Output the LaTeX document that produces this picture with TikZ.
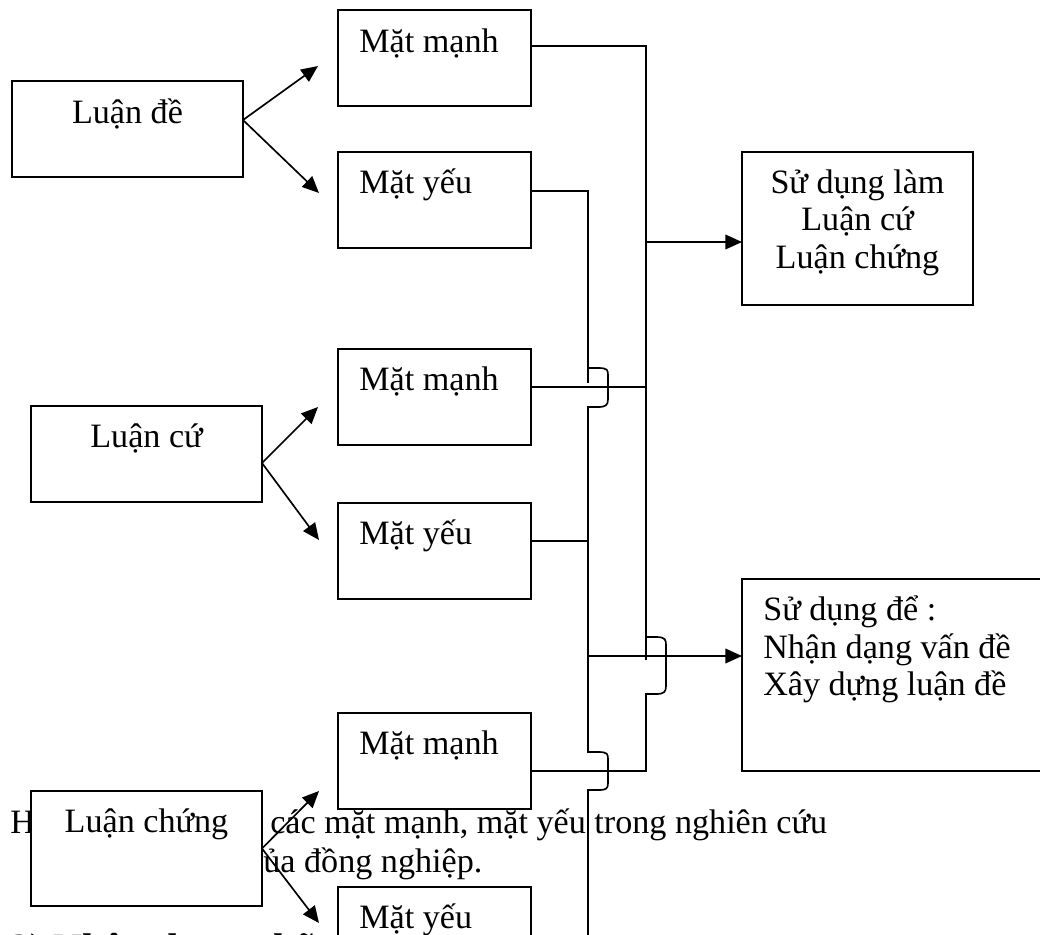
\documentclass[tikz,border=0pt]{standalone}
\usepackage{fontspec}
\setmainfont{Liberation Serif}
\usetikzlibrary{arrows.meta,calc}
\begin{document}
\begin{tikzpicture}[x=0.75pt,y=-0.75pt,
  box/.style={draw,fill=white,line width=1.4pt,inner sep=0pt,outer sep=0pt,anchor=north west},
  lbl/.style={inner sep=0pt,font=\fontsize{25.6}{30}\selectfont},
  ln/.style={line width=1.25pt},
  arr/.style={line width=1.25pt,-{Triangle[length=12.5pt,width=11pt]}}]
\useasboundingbox (0,0) rectangle (1040,935);
\clip (0,0) rectangle (1040,935);

% background page text (partly hidden by the boxes)
\node[lbl,anchor=base west] (bgH) at (10,833) {H};
\node[lbl,anchor=base west] (bg1) at (270,833) {các mặt mạnh, mặt yếu trong nghiên cứu};
\node[lbl,anchor=base west] (bg2) at (248,872) {của đồng nghiệp.};
\node[inner sep=0pt,anchor=base west,font=\fontsize{30}{34}\selectfont\bfseries] (bg3) at (10,961) {2) Nhận dạng những};

% boxes
\node[box,minimum width=173.25pt,minimum height=72pt] (lde) at (12,81) {};
\node[box,minimum width=173.25pt,minimum height=72pt] (lcu) at (31,406) {};
\node[box,minimum width=173.25pt,minimum height=86.25pt] (lch) at (31,791) {};
\node[box,minimum width=144.75pt,minimum height=72pt] (mm1) at (338,10) {};
\node[box,minimum width=144.75pt,minimum height=72pt] (my1) at (338,152) {};
\node[box,minimum width=144.75pt,minimum height=72pt] (mm2) at (338,349) {};
\node[box,minimum width=144.75pt,minimum height=72pt] (my2) at (338,503) {};
\node[box,minimum width=144.75pt,minimum height=72pt] (mm3) at (338,713) {};
\node[box,minimum width=144.75pt,minimum height=72pt] (my3) at (338,887) {};
\node[box,minimum width=173.25pt,minimum height=114.75pt] (use1) at (742,152) {};
\node[box,minimum width=238.5pt,minimum height=144pt] (use2) at (742,579) {};

% labels
\node[lbl,anchor=base] (tlde) at (127.5,123) {Luận đề};
\node[lbl,anchor=base] (tlcu) at (146.5,447) {Luận cứ};
\node[lbl,anchor=base] (tlch) at (146.5,832) {Luận chứng};
\node[lbl,anchor=base west] (tmm1) at (359,52) {Mặt mạnh};
\node[lbl,anchor=base west] (tmy1) at (359,193) {Mặt yếu};
\node[lbl,anchor=base west] (tmm2) at (359,390) {Mặt mạnh};
\node[lbl,anchor=base west] (tmy2) at (359,544) {Mặt yếu};
\node[lbl,anchor=base west] (tmm3) at (359,754) {Mặt mạnh};
\node[lbl,anchor=base west] (tmy3) at (359,928) {Mặt yếu};
\node[lbl,anchor=base] (tu1a) at (857.5,193) {Sử dụng làm};
\node[lbl,anchor=base] (tu1b) at (857.5,230) {Luận cứ};
\node[lbl,anchor=base] (tu1c) at (857.5,268) {Luận chứng};
\node[lbl,anchor=base west] (tu2a) at (763,620) {Sử dụng để :};
\node[lbl,anchor=base west] (tu2b) at (763,658) {Nhận dạng vấn đề};
\node[lbl,anchor=base west] (tu2c) at (763,695) {Xây dựng luận đề};

% arrow tips
\coordinate (a1) at (318,66);
\coordinate (a2) at (319,193);
\coordinate (a3) at (318,407);
\coordinate (a4) at (319,540);
\coordinate (a5) at (319,791);
\coordinate (a6) at (319,923);

\draw[arr] ($(lde.east)+(0,-9)$) -- (a1);
\draw[arr] ($(lde.east)+(0,-9)$) -- (a2);
\draw[arr] ($(lcu.east)+(0,9)$) -- (a3);
\draw[arr] ($(lcu.east)+(0,9)$) -- (a4);
\draw[arr] (lch.east) -- (a5);
\draw[arr] (lch.east) -- (a6);

% bus of the strong sides (x = 646)
\draw[ln] ($(mm1.north east)+(0,36)$) -| (646,660);
\draw[ln] ($(mm2.north east)+(0,38)$) -- (646,387);
\draw[ln] (646,637) -- (656,637) .. controls (666,637) and (666,640) .. (666,646)
  -- (666,686) .. controls (666,692) and (664,694) .. (656,694) -- (646,694)
  -- (646,771) -- ($(mm3.north east)+(0,58)$);
\draw[arr] (646,242) -- ($(use1.north west)+(0,90)$);

% bus of the weak sides (x = 588)
\draw[ln] ($(my1.north east)+(0,39)$) -| (588,383);
\draw[ln] (588,368) -- (598,368) .. controls (608,368) and (608,370) .. (608,376)
  -- (608,399) .. controls (608,405) and (606,407) .. (598,407) -- (588,407)
  -- (588,752) -- (598,752) .. controls (608,752) and (608,754) .. (608,760)
  -- (608,783) .. controls (608,789) and (606,790) .. (598,790) -- (588,790)
  -- (588,945);
\draw[ln] ($(my2.north east)+(0,38)$) -- (588,541);
\draw[arr] (588,656) -- ($(use2.north west)+(0,77)$);
\end{tikzpicture}
\end{document}
